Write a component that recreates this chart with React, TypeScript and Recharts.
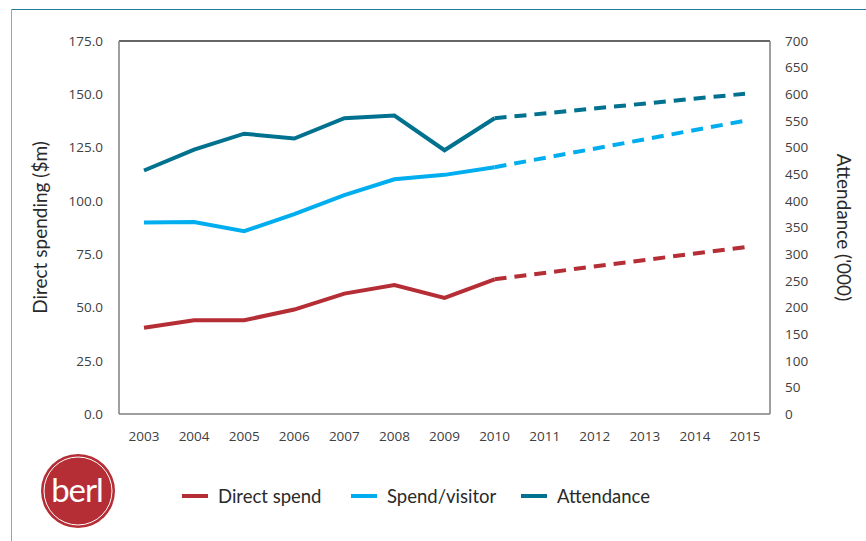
import { LineChart, Line, XAxis, YAxis, ReferenceLine } from "recharts";

const years = ["2003", "2004", "2005", "2006", "2007", "2008", "2009", "2010", "2011", "2012", "2013", "2014", "2015"];

// actuals 2003-2010, then projection end-points 2010 and 2015 (straight dashed line)
const directSpend = [40.5, 44, 44, 49, 56.5, 60.5, 54.5, 63.2, null, null, null, null, null];
const directSpendProj = [null, null, null, null, null, null, null, 63.2, null, null, null, null, 78.3];
const spendPerVisitor = [89.8, 90.1, 85.8, 93.8, 102.7, 110.1, 112.2, 115.8, null, null, null, null, null];
const spendPerVisitorProj = [null, null, null, null, null, null, null, 115.8, null, null, null, null, 137.6];
const attendance = [457, 496, 526, 517, 555, 560, 495, 555, null, null, null, null, null];
const attendanceProj = [null, null, null, null, null, null, null, 555, null, null, null, null, 601];

const leftTicks = [0, 25, 50, 75, 100, 125, 150, 175];
const rightTicks = [0, 50, 100, 150, 200, 250, 300, 350, 400, 450, 500, 550, 600, 650, 700];

const RED = "#b52d35";
const LIGHT = "#00aeef";
const TEAL = "#00718f";

const data = years.map((year, i) => ({
  year,
  direct: directSpend[i],
  directProj: directSpendProj[i],
  visitor: spendPerVisitor[i],
  visitorProj: spendPerVisitorProj[i],
  attend: attendance[i],
  attendProj: attendanceProj[i],
}));

const legendItems = [
  { label: "Direct spend", color: RED, left: 182 },
  { label: "Spend/visitor", color: LIGHT, left: 351 },
  { label: "Attendance", color: TEAL, left: 521 },
];

const tickStyle = { fill: "#404040", fontSize: 13.5, fontFamily: "'Open Sans', sans-serif" };
const titleFont = "Lato, 'Noto Sans', sans-serif";

export default function App() {
  return (
    <div style={{ position: "fixed", left: 0, top: 0, width: 866, height: 541, background: "#fff", overflow: "hidden" }}>
      {/* frame */}
      <div style={{ position: "absolute", left: 11, top: 9, width: 855, height: 1, background: "#1f7f9a" }} />
      <div style={{ position: "absolute", left: 11, top: 9, width: 1, height: 532, background: "#62b8cc" }} />

      <LineChart width={866} height={541} data={data} margin={{ top: 41, right: 0, bottom: 97, left: 0 }}>
        <XAxis
          dataKey="year"
          padding={{ left: 25, right: 25 }}
          axisLine={{ stroke: "#7f7f7f", strokeWidth: 1.5 }}
          tickLine={false}
          tickSize={0}
          tickMargin={17}
          height={30}
          interval={0}
          tick={tickStyle}
        />
        <YAxis
          yAxisId="left"
          width={119}
          domain={[0, 175]}
          ticks={leftTicks}
          tickFormatter={(v) => v.toFixed(1)}
          axisLine={{ stroke: "#7f7f7f", strokeWidth: 1.5 }}
          tickLine={false}
          tickSize={0}
          tickMargin={16}
          tick={tickStyle}
          label={{
            value: "Direct spending ($m)",
            angle: -90,
            position: "insideLeft",
            offset: 0,
            dx: 40,
            style: { fill: "#2a2a2a", fontSize: 19, fontFamily: titleFont, textAnchor: "middle" },
          }}
        />
        <YAxis
          yAxisId="right"
          orientation="right"
          width={96}
          domain={[0, 700]}
          ticks={rightTicks}
          axisLine={{ stroke: "#7f7f7f", strokeWidth: 1.5 }}
          tickLine={false}
          tickSize={0}
          tickMargin={15}
          tick={tickStyle}
          label={{
            value: "Attendance ('000)",
            angle: 90,
            position: "insideRight",
            offset: 0,
            dx: -22,
            style: { fill: "#2a2a2a", fontSize: 19, fontFamily: titleFont, textAnchor: "middle" },
          }}
        />
        <ReferenceLine yAxisId="left" y={175} stroke="#333" strokeWidth={1.5} />

        <Line yAxisId="left" dataKey="direct" stroke={RED} strokeWidth={4} dot={false} isAnimationActive={false} />
        <Line yAxisId="left" dataKey="directProj" stroke={RED} strokeWidth={4} strokeDasharray="12 8" dot={false} connectNulls isAnimationActive={false} />
        <Line yAxisId="left" dataKey="visitor" stroke={LIGHT} strokeWidth={4} dot={false} isAnimationActive={false} />
        <Line yAxisId="left" dataKey="visitorProj" stroke={LIGHT} strokeWidth={4} strokeDasharray="12 8" dot={false} connectNulls isAnimationActive={false} />
        <Line yAxisId="right" dataKey="attend" stroke={TEAL} strokeWidth={4} dot={false} isAnimationActive={false} />
        <Line yAxisId="right" dataKey="attendProj" stroke={TEAL} strokeWidth={4} strokeDasharray="12 8" dot={false} connectNulls isAnimationActive={false} />
      </LineChart>

      {/* legend */}
      {legendItems.map((it) => (
        <div key={it.label} style={{ position: "absolute", left: it.left, top: 485, height: 22, display: "flex", alignItems: "center" }}>
          <div style={{ width: 26, height: 4, background: it.color, marginRight: 10 }} />
          <span style={{ fontFamily: titleFont, fontSize: 18.5, color: "#2a2a2a" }}>{it.label}</span>
        </div>
      ))}

      {/* logo */}
      <svg style={{ position: "absolute", left: 40, top: 453 }} width={76} height={76}>
        <circle cx={38} cy={38} r={37} fill={RED} />
        <circle cx={38} cy={38} r={34} fill="none" stroke="#fff" strokeWidth={1} />
        <text x={37} y={49} textAnchor="middle" fill="#fff" fontSize={33} fontFamily={titleFont} letterSpacing={-1}>berl</text>
      </svg>
    </div>
  );
}
